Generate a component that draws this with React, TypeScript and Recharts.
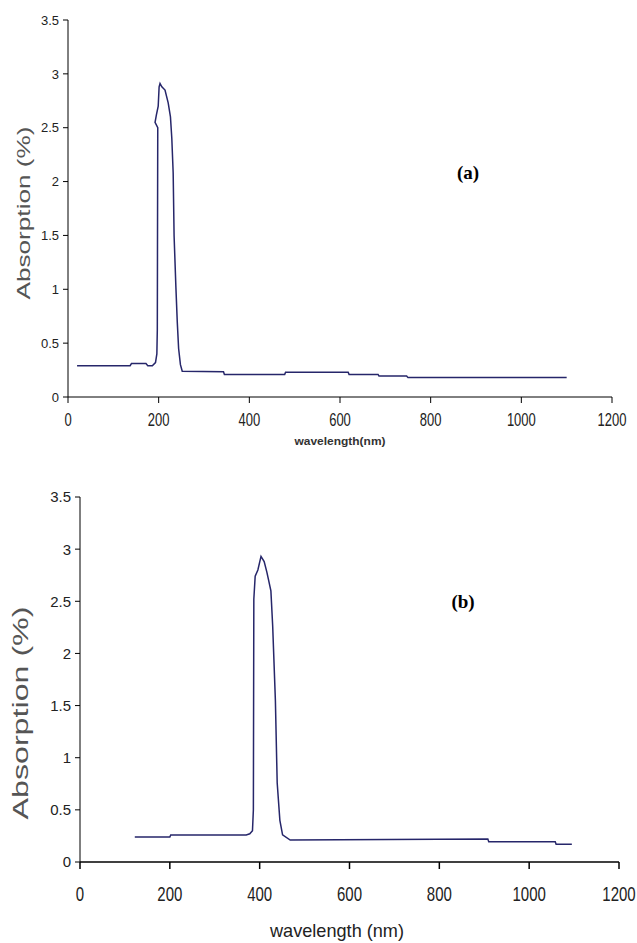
import { LineChart, Line, XAxis, YAxis } from 'recharts';

// spectrum (a): wavelength (nm) / absorption (%)
const waveA = [20, 137, 140, 172, 176, 186, 193, 196, 197, 198, 192, 195, 199, 201, 203, 207, 214, 221, 226, 229, 232, 234, 238, 241, 244, 248, 252, 343, 345, 478, 480, 618, 620, 684, 686, 747, 750, 1100];
const absA = [0.29, 0.29, 0.31, 0.31, 0.29, 0.29, 0.32, 0.4, 0.62, 2.5, 2.55, 2.62, 2.7, 2.88, 2.91, 2.88, 2.85, 2.73, 2.6, 2.4, 2.08, 1.5, 1.02, 0.7, 0.45, 0.3, 0.24, 0.235, 0.21, 0.21, 0.23, 0.23, 0.21, 0.21, 0.195, 0.195, 0.18, 0.18];

// spectrum (b)
const waveB = [122, 200, 202, 370, 378, 384, 386, 387, 390, 396, 403, 410, 416, 420, 425, 429, 435, 439, 445, 451, 468, 908, 910, 1058, 1060, 1095];
const absB = [0.24, 0.24, 0.26, 0.26, 0.27, 0.3, 0.5, 2.52, 2.74, 2.8, 2.93, 2.88, 2.78, 2.7, 2.6, 2.26, 1.55, 0.76, 0.4, 0.26, 0.21, 0.22, 0.195, 0.195, 0.17, 0.17];

const xTicks = [0, 200, 400, 600, 800, 1000, 1200];
const yTicks = [0, 0.5, 1, 1.5, 2, 2.5, 3, 3.5];

const dataA = waveA.map((w, i) => ({ w, a: absA[i] }));
const dataB = waveB.map((w, i) => ({ w, a: absB[i] }));

const font = 'Arial, "Liberation Sans", sans-serif';
const serif = '"Times New Roman", "Liberation Serif", serif';

// x tick labels look vertically stretched in the scan
const XTick = ({ x, y, payload, fs, off, k }: any) => (
  <g transform={`translate(${x},${y + off}) scale(1,${k})`}>
    <text x={0} y={0} dy={fs * 0.36} textAnchor="middle" fontSize={fs} fontFamily={font} fill="#222">
      {payload.value}
    </text>
  </g>
);

const YTick = ({ x, y, payload, fs }: any) => (
  <text x={x} y={y} dy={fs * 0.36} textAnchor="end" fontSize={fs} fontFamily={font} fill="#222">
    {payload.value}
  </text>
);

export default function App() {
  return (
    <div style={{ position: 'absolute', left: 0, top: 0, width: 637, height: 943, background: '#fff' }}>
      <LineChart width={637} height={460} data={dataA} margin={{ top: 20, right: 25, bottom: 33, left: 28 }}>
        <XAxis
          dataKey="w"
          type="number"
          domain={[0, 1200]}
          ticks={xTicks}
          stroke="#000"
          tickSize={6}
          tickMargin={8}
          height={30}
          tick={<XTick fs={13} off={9} k={1.35} />}
        />
        <YAxis
          type="number"
          domain={[0, 3.5]}
          ticks={yTicks}
          stroke="#000"
          tickSize={5}
          tickMargin={4}
          width={40}
          tick={<YTick fs={13} />}
        />
        <Line dataKey="a" type="linear" stroke="#26266a" strokeWidth={1.5} dot={false} isAnimationActive={false} />
        <text x={25} y={213} transform="rotate(-90 25 213)" textAnchor="middle" dominantBaseline="middle"
          fontSize={18} fontFamily={font} fill="#555" textLength={173} lengthAdjust="spacingAndGlyphs">
          Absorption (%)
        </text>
        <text x={340} y={445} textAnchor="middle" fontSize={11} fontWeight="bold" fontFamily={font} fill="#333"
          textLength={91} lengthAdjust="spacingAndGlyphs">
          wavelength(nm)
        </text>
        <text x={468} y={179} textAnchor="middle" fontSize={19} fontWeight="bold" fontFamily={serif} fill="#000">
          (a)
        </text>
      </LineChart>
      <LineChart width={637} height={483} data={dataB} margin={{ top: 37, right: 18, bottom: 51, left: 40 }}>
        <XAxis
          dataKey="w"
          type="number"
          domain={[0, 1200]}
          ticks={xTicks}
          stroke="#000"
          strokeWidth={1.5}
          tickSize={7}
          tickMargin={10}
          height={30}
          tick={<XTick fs={15} off={15} k={1.35} />}
        />
        <YAxis
          type="number"
          domain={[0, 3.5]}
          ticks={yTicks}
          stroke="#000"
          tickSize={5}
          tickMargin={4}
          width={40}
          tick={<YTick fs={15} />}
        />
        <Line dataKey="a" type="linear" stroke="#26266a" strokeWidth={1.5} dot={false} isAnimationActive={false} />
        <text x={22} y={253} transform="rotate(-90 22 253)" textAnchor="middle" dominantBaseline="middle"
          fontSize={22} fontFamily={font} fill="#555" textLength={213} lengthAdjust="spacingAndGlyphs">
          Absorption (%)
        </text>
        <g transform="translate(337,471) scale(1,1.25)">
          <text x={0} y={0} dy={5} textAnchor="middle" fontSize={15} fontFamily={font} fill="#222"
            textLength={134} lengthAdjust="spacingAndGlyphs">
            wavelength (nm)
          </text>
        </g>
        <text x={463} y={148} textAnchor="middle" fontSize={19} fontWeight="bold" fontFamily={serif} fill="#000">
          (b)
        </text>
      </LineChart>
    </div>
  );
}
